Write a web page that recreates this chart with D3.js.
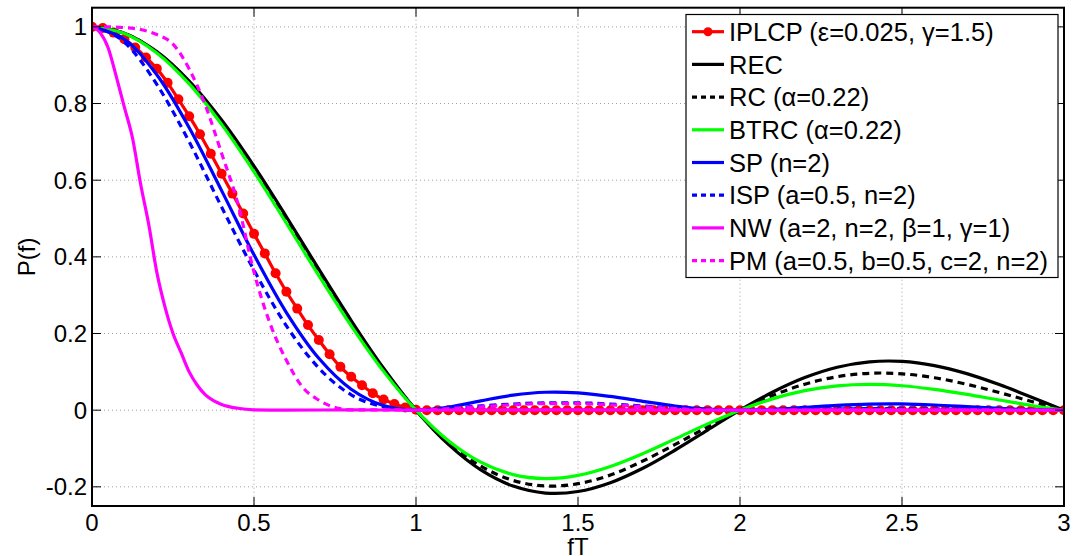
<!DOCTYPE html>
<html>
<head>
<meta charset="utf-8">
<script src="https://cdn.jsdelivr.net/npm/d3@7"></script>
<style>
  html, body { margin: 0; padding: 0; background: #fff; }
  svg { display: block; }
  text { font-family: "Liberation Sans", Arial, Helvetica, sans-serif; fill: #000; }
</style>
</head>
<body>
<svg id="chart" width="1073" height="556"></svg>
<script>
// ---------------- data ----------------
const fT = [0,0.1,0.2,0.3,0.4,0.5,0.6,0.7,0.8,0.9,1.0,1.1,1.2,1.3,1.4,1.5,1.6,1.7,1.8,1.9,2.0,2.1,2.2,2.3,2.4,2.5,2.6,2.7,2.8,2.9,3.0];

const recValues  = [1, 0.9836, 0.9355, 0.8584, 0.7568, 0.6366, 0.5046, 0.3679, 0.2339, 0.1093, 0, -0.0894, -0.1559, -0.1981, -0.2162, -0.2122, -0.1892, -0.1515, -0.1039, -0.0518, 0, 0.0468, 0.0850, 0.1120, 0.1261, 0.1273, 0.1164, 0.0954, 0.0668, 0.0339, 0];
const rcValues   = [1, 0.9832, 0.9338, 0.8549, 0.7513, 0.6294, 0.4964, 0.3598, 0.2272, 0.1054, 0, -0.0846, -0.1460, -0.1834, -0.1978, -0.1918, -0.1692, -0.1327, -0.0894, -0.0438, 0, 0.0381, 0.0678, 0.0874, 0.0963, 0.0949, 0.0846, 0.0675, 0.0460, 0.0227, 0];
const btrcValues = [1, 0.9827, 0.9320, 0.8512, 0.7455, 0.6218, 0.4877, 0.3512, 0.2201, 0.1012, 0, -0.0796, -0.1356, -0.1681, -0.1784, -0.1700, -0.1467, -0.1134, -0.0749, -0.0358, 0, 0.0295, 0.0509, 0.0635, 0.0673, 0.0637, 0.0543, 0.0413, 0.0266, 0.0123, 0];
const spValues   = [1, 0.9675, 0.8751, 0.7368, 0.5728, 0.4053, 0.2546, 0.1353, 0.0547, 0.0119, 0, 0.0080, 0.0243, 0.0392, 0.0467, 0.0450, 0.0358, 0.0230, 0.0108, 0.0027, 0, 0.0022, 0.0072, 0.0125, 0.0159, 0.0162, 0.0135, 0.0091, 0.0045, 0.0011, 0];
const ispValues  = [1, 0.96, 0.85, 0.70, 0.53, 0.365, 0.22, 0.11, 0.04, 0.009, 0, 0.005, 0.011, 0.016, 0.019, 0.019, 0.016, 0.011, 0.006, 0.002, 0, 0.001, 0.002, 0.003, 0.004, 0.004, 0.003, 0.002, 0.001, 0.0003, 0];

const nwFT     = [0, 0.025, 0.05, 0.075, 0.1, 0.125, 0.15, 0.175, 0.2, 0.225, 0.25, 0.275, 0.3, 0.325, 0.35, 0.375, 0.4, 0.45, 0.5, 0.6, 0.8, 1.0, 1.5, 2.0, 2.5, 3.0];
const nwValues = [1, 0.985, 0.945, 0.87, 0.79, 0.71, 0.59, 0.485, 0.36, 0.27, 0.20, 0.15, 0.10, 0.065, 0.04, 0.025, 0.015, 0.005, 0.001, 0, 0.001, 0, 0.001, 0, 0, 0];

const pmFT     = [0, 0.05, 0.1, 0.15, 0.2, 0.25, 0.3, 0.35, 0.4, 0.45, 0.5, 0.55, 0.6, 0.65, 0.7, 0.75, 0.8, 0.9, 1.0, 1.1, 1.2, 1.3, 1.4, 1.5, 1.6, 1.7, 1.8, 1.9, 2.0, 2.5, 3.0];
const pmValues = [1, 1.0, 0.998, 0.993, 0.98, 0.955, 0.89, 0.795, 0.67, 0.54, 0.36, 0.225, 0.13, 0.06, 0.026, 0.007, 0.001, 0.001, 0, 0.004, 0.009, 0.014, 0.017, 0.017, 0.014, 0.009, 0.004, 0.001, 0, 0.001, 0];

// IPLCP sampled every 1/30 in fT (markers at every sample)
const iplcpValues = [
  1.000, 0.997, 0.985, 0.968, 0.946, 0.920, 0.891, 0.854, 0.811, 0.767,
  0.720, 0.669, 0.617, 0.565, 0.513, 0.460, 0.409, 0.357, 0.309, 0.265,
  0.222, 0.183, 0.146, 0.113, 0.087, 0.065, 0.044, 0.028, 0.016, 0.007,
  0.001, 0, 0, 0, 0, 0, 0, 0, 0, 0,
  0, 0, 0, 0, 0, 0, 0, 0, 0, 0,
  0, 0, 0, 0, 0, 0, 0, 0, 0, 0,
  0, 0, 0, 0, 0, 0, 0, 0, 0, 0,
  0, 0, 0, 0, 0, 0, 0, 0, 0, 0,
  0, 0, 0, 0, 0, 0, 0, 0, 0, 0,
  0
];
const iplcpFT = iplcpValues.map((_, i) => i / 30);

const xTicks = [0, 0.5, 1, 1.5, 2, 2.5, 3];
const yTicks = [-0.2, 0, 0.2, 0.4, 0.6, 0.8, 1];

const seriesNames = [
  "IPLCP (ε=0.025, γ=1.5)",
  "REC",
  "RC (α=0.22)",
  "BTRC (α=0.22)",
  "SP (n=2)",
  "ISP (a=0.5, n=2)",
  "NW (a=2, n=2, β=1, γ=1)",
  "PM (a=0.5, b=0.5, c=2, n=2)"
];

// ---------------- layout ----------------
const L = 92, R = 1064, T = 7.7, B = 506;
const FS = 24, LFS = 25.5;

const svg = d3.select("#chart");
const x = d3.scaleLinear().domain([0, 3]).range([L, R]);
const y = d3.scaleLinear().domain([-0.25, 1.05]).range([B, T]);

// grid
const grid = svg.append("g").attr("stroke", "#a0a0a0").attr("stroke-width", 1).attr("stroke-dasharray", "1,3");
xTicks.slice(1, -1).forEach(t => {
  grid.append("line").attr("x1", x(t)).attr("x2", x(t)).attr("y1", T).attr("y2", B);
});
yTicks.forEach(t => {
  grid.append("line").attr("x1", L).attr("x2", R).attr("y1", y(t)).attr("y2", y(t));
});

// clip
svg.append("clipPath").attr("id", "plotclip").append("rect")
  .attr("x", L).attr("y", T).attr("width", R - L).attr("height", B - T);

const smooth = d3.curveCatmullRom.alpha(0.5);
const mono = d3.curveMonotoneX;
const styles = [
  {name: seriesNames[0], xs: iplcpFT, ys: iplcpValues, color: "#ff0000", dash: null, marker: true, curve: mono},
  {name: seriesNames[1], xs: fT, ys: recValues, color: "#000000", dash: null, curve: smooth},
  {name: seriesNames[2], xs: fT, ys: rcValues, color: "#000000", dash: "7,5", curve: smooth},
  {name: seriesNames[3], xs: fT, ys: btrcValues, color: "#00ff00", dash: null, curve: smooth},
  {name: seriesNames[4], xs: fT, ys: spValues, color: "#0000ff", dash: null, curve: smooth},
  {name: seriesNames[5], xs: fT, ys: ispValues, color: "#0000ff", dash: "7,5", curve: mono},
  {name: seriesNames[6], xs: nwFT, ys: nwValues, color: "#ff00ff", dash: null, curve: mono},
  {name: seriesNames[7], xs: pmFT, ys: pmValues, color: "#ff00ff", dash: "7,5", curve: mono}
];

const plot = svg.append("g").attr("clip-path", "url(#plotclip)");

styles.forEach(s => {
  const pts = s.xs.map((v, i) => [v, s.ys[i]]);
  const line = d3.line().x(d => x(d[0])).y(d => y(d[1])).curve(s.curve);
  plot.append("path").datum(pts)
    .attr("d", line)
    .attr("fill", "none")
    .attr("stroke", s.color)
    .attr("stroke-width", 3.2)
    .attr("stroke-dasharray", s.dash);
  if (s.marker) {
    plot.append("g").selectAll("circle").data(pts).join("circle")
      .attr("cx", d => x(d[0])).attr("cy", d => y(d[1]))
      .attr("r", 5).attr("fill", s.color);
  }
});

// axes box
svg.append("rect").attr("x", L).attr("y", T).attr("width", R - L).attr("height", B - T)
  .attr("fill", "none").attr("stroke", "#000").attr("stroke-width", 2);

// ticks (inward, all four sides)
const tk = 9;
const ticks = svg.append("g").attr("stroke", "#000").attr("stroke-width", 1);
xTicks.forEach(t => {
  ticks.append("line").attr("x1", x(t)).attr("x2", x(t)).attr("y1", B).attr("y2", B - tk);
  ticks.append("line").attr("x1", x(t)).attr("x2", x(t)).attr("y1", T).attr("y2", T + tk);
});
yTicks.forEach(t => {
  ticks.append("line").attr("x1", L).attr("x2", L + tk).attr("y1", y(t)).attr("y2", y(t));
  ticks.append("line").attr("x1", R).attr("x2", R - tk).attr("y1", y(t)).attr("y2", y(t));
});

// tick labels
const fmt = v => (v === 0 ? "0" : String(v));
svg.append("g").selectAll("text").data(xTicks).join("text")
  .attr("x", d => x(d)).attr("y", 531)
  .attr("text-anchor", "middle").attr("font-size", FS).text(fmt);
svg.append("g").selectAll("text").data(yTicks).join("text")
  .attr("x", L - 5).attr("y", d => y(d)).attr("dy", "0.35em")
  .attr("text-anchor", "end").attr("font-size", FS).text(d => (d < 0 ? "-" + String(-d) : fmt(d)));

// axis labels
svg.append("text").attr("x", (L + R) / 2).attr("y", 555)
  .attr("text-anchor", "middle").attr("font-size", FS).text("fT");
svg.append("text").attr("transform", `translate(35,${(T + B) / 2}) rotate(-90)`)
  .attr("text-anchor", "middle").attr("font-size", FS).text("P(f)");

// legend
const lgX = 686, lgY = 14.5, lgW = 372, lgH = 263, rowH = 32.7, row0 = 31.7;
const lg = svg.append("g");
lg.append("rect").attr("x", lgX).attr("y", lgY).attr("width", lgW).attr("height", lgH)
  .attr("fill", "#fff").attr("stroke", "#000").attr("stroke-width", 1.2);
styles.forEach((s, i) => {
  const cy = row0 + i * rowH;
  lg.append("line").attr("x1", 692).attr("x2", 724).attr("y1", cy).attr("y2", cy)
    .attr("stroke", s.color).attr("stroke-width", 3.2).attr("stroke-dasharray", s.dash ? "5,4" : null);
  if (s.marker) {
    lg.append("circle").attr("cx", 708).attr("cy", cy).attr("r", 4.5).attr("fill", s.color);
  }
  lg.append("text").attr("x", 729).attr("y", cy).attr("dy", "0.36em")
    .attr("font-size", LFS).text(s.name);
});
</script>
</body>
</html>
